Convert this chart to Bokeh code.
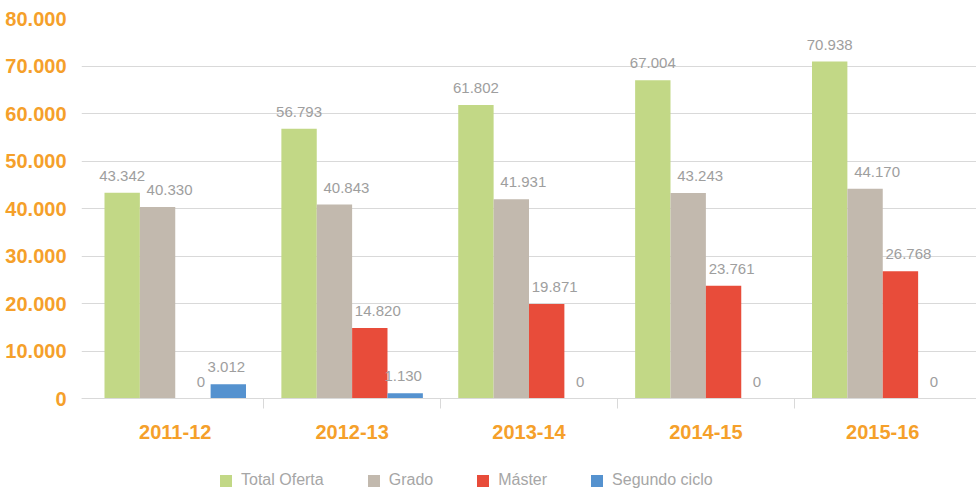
from bokeh.plotting import figure
from bokeh.models import (Range1d, FixedTicker, ColumnDataSource, Legend, LegendItem)
from bokeh.transform import dodge
from bokeh.core.properties import value
from bokeh.embed import file_html
from bokeh.resources import INLINE

# ---- data ----
cats = ["2011-12", "2012-13", "2013-14", "2014-15", "2015-16"]
total_oferta = [43342, 56793, 61802, 67004, 70938]
grado = [40330, 40843, 41931, 43243, 44170]
master = [0, 14820, 19871, 23761, 26768]
segundo_ciclo = [3012, 1130, 0, 0, 0]
series_names = ["Total Oferta", "Grado", "Máster", "Segundo ciclo"]
y_ticks = [0, 10000, 20000, 30000, 40000, 50000, 60000, 70000, 80000]

colors = ["#C2D886", "#C2B9AE", "#E84C3A", "#5592CF"]
offsets = [-0.3, -0.1, 0.1, 0.3]
label_dx = [0, 12, 8, -2]
FONT = "Liberation Sans"
ORANGE = "#F5A02A"
GRID = "#D9D9D9"


def fmt(v):
    return f"{v:,}".replace(",", ".")


n = len(cats)
centers = [i + 0.5 for i in range(n)]

# the frame extends below zero to host the legend; zero sits 100px above the bottom
p = figure(x_range=Range1d(-0.03, n + 0.03), y_range=Range1d(-21050, 80000),
           width=976, height=498, output_backend="svg", toolbar_location=None,
           min_border_left=81, min_border_top=18,
           min_border_right=0, min_border_bottom=0)
p.outline_line_color = None
p.background_fill_color = "white"
p.xgrid.visible = False

# y axis
p.yaxis.ticker = FixedTicker(ticks=y_ticks)
p.yaxis.major_label_overrides = {t: fmt(t) for t in y_ticks}
p.yaxis.axis_line_color = None
p.yaxis.major_tick_line_color = None
p.yaxis.minor_tick_line_color = None
p.yaxis.major_label_text_font = FONT
p.yaxis.major_label_text_font_style = "bold"
p.yaxis.major_label_text_font_size = "20px"
p.yaxis.major_label_text_color = ORANGE
p.yaxis.major_label_standoff = 9
p.ygrid.grid_line_color = GRID
p.ygrid.grid_line_width = 1

# x axis with boundary ticks, fixed at zero
xaxis = p.xaxis[0]
xaxis.fixed_location = 0
xaxis.ticker = FixedTicker(ticks=centers, minor_ticks=list(range(1, n)))
xaxis.major_label_overrides = {c: lbl for c, lbl in zip(centers, cats)}
xaxis.major_tick_out = 0
xaxis.major_tick_in = 0
xaxis.minor_tick_out = 10
xaxis.minor_tick_in = 0
xaxis.minor_tick_line_color = GRID
xaxis.axis_line_color = GRID
xaxis.major_label_text_font = FONT
xaxis.major_label_text_font_style = "bold"
xaxis.major_label_text_font_size = "20px"
xaxis.major_label_text_color = ORANGE
xaxis.major_label_standoff = 16

data = {"x": centers}
series = [total_oferta, grado, master, segundo_ciclo]
keys = ["s0", "s1", "s2", "s3"]
for k, s in zip(keys, series):
    data[k] = s
    data[k + "_lbl"] = [fmt(v) for v in s]
src = ColumnDataSource(data)

items = []
for k, name, col, off, dx in zip(keys, series_names, colors, offsets, label_dx):
    r = p.vbar(x=dodge("x", off), top=k, width=0.2,
               source=src, fill_color=col, line_color=None)
    p.text(x=dodge("x", off), y=k, text=k + "_lbl",
           source=src, text_align="center", text_baseline="bottom",
           x_offset=dx, y_offset=-12, text_font=value(FONT), text_font_size="15px",
           text_color="#9E9E9E")
    items.append(LegendItem(label=name, renderers=[r]))

legend = Legend(items=items, orientation="horizontal", location=(137, 9),
                spacing=42, glyph_width=15, glyph_height=15, label_height=15,
                padding=0, margin=0, label_standoff=8,
                label_text_font=FONT, label_text_font_size="16px",
                label_text_color="#A6A6A6", border_line_color=None,
                background_fill_alpha=0)
p.add_layout(legend, "center")

open("out.html", "w").write(file_html(p, INLINE))
